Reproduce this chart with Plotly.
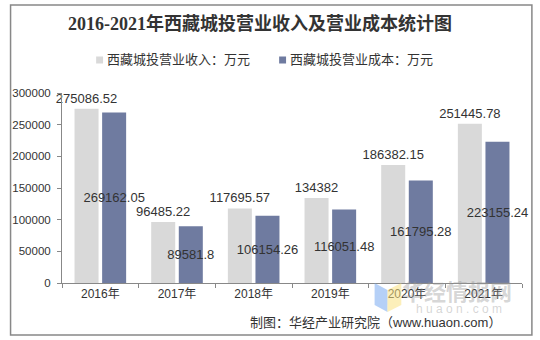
import plotly.graph_objects as go

years = ["2016年", "2017年", "2018年", "2019年", "2020年", "2021年"]
revenue = [275086.52, 96485.22, 117695.57, 134382, 186382.15, 251445.78]
cost = [269162.05, 89581.8, 106154.26, 116051.48, 161795.28, 223155.24]
revenue_labels = ["275086.52", "96485.22", "117695.57", "134382", "186382.15", "251445.78"]
cost_labels = ["269162.05", "89581.8", "106154.26", "116051.48", "161795.28", "223155.24"]
series_names = ["西藏城投营业收入：万元", "西藏城投营业成本：万元"]
series_colors = ["#D9D9D9", "#6F7BA0"]
y_ticks = [0, 50000, 100000, 150000, 200000, 250000, 300000]

FONT = "Liberation Sans, Arial, Noto Sans CJK SC, sans-serif"

fig = go.Figure()
fig.add_trace(go.Bar(
    x=years, y=revenue, name=series_names[0],
    marker=dict(color=series_colors[0], line=dict(width=0)),
    text=revenue_labels, textposition="outside", cliponaxis=False,
    textfont=dict(size=13, color="#333333", family=FONT),
    constraintext="none", showlegend=False,
))
fig.add_trace(go.Bar(
    x=years, y=cost, name=series_names[1],
    marker=dict(color=series_colors[1], line=dict(width=0)),
    text=cost_labels, textposition="inside", insidetextanchor="middle",
    textangle=0, constraintext="none", cliponaxis=False,
    insidetextfont=dict(size=13, color="#333333", family=FONT),
    showlegend=False,
))

# plot area geometry (px): x 57..522, y 93..283
L, R, T, B = 57, 522, 93, 283
W, H = R - L, B - T
def px(x): return (x - L) / W
def py(y): return (B - y) / H

fig.update_layout(
    width=540, height=340,
    margin=dict(l=L, r=540 - R, t=T, b=340 - B),
    paper_bgcolor="white", plot_bgcolor="white",
    barmode="group", bargap=0.28, bargroupgap=0.13,
    font=dict(family=FONT, size=12, color="#333333"),
    title=dict(
        text="<b>2016-2021年西藏城投营业收入及营业成本统计图</b>",
        font=dict(family="Liberation Serif, Noto Sans CJK SC, serif", size=18, color="#333333"),
        x=260 / 540, xanchor="center", y=1 - 24 / 340, yanchor="middle",
    ),
    showlegend=False,
    xaxis=dict(
        showline=True, linecolor="#888888", linewidth=1,
        ticks="outside", tickson="boundaries", ticklen=4, tickcolor="#888888",
        tickfont=dict(size=12, color="#333333"), showgrid=False, fixedrange=True,
    ),
    yaxis=dict(
        range=[0, 300000], tickvals=y_ticks, ticktext=[str(v) for v in y_ticks],
        showline=True, linecolor="#888888", linewidth=1, showgrid=False,
        zeroline=False, ticks="outside", ticklen=4, tickcolor="#888888",
        ticklabelstandoff=4,
        tickfont=dict(size=11.5, color="#333333"),
        fixedrange=True,
    ),
)

# manual legend
for mx, name, col in zip([95, 280], series_names, series_colors):
    fig.add_shape(type="rect", xref="paper", yref="paper",
                  x0=px(mx - 3.5), x1=px(mx + 3.5), y0=py(63.5), y1=py(56.5),
                  fillcolor=col, line=dict(width=0))
    fig.add_annotation(xref="paper", yref="paper", x=px(mx + 5), y=py(60),
                       text=name, showarrow=False, xanchor="left", yanchor="middle",
                       font=dict(size=13, color="#333333"))

# outer border
fig.add_shape(type="rect", xref="paper", yref="paper",
              x0=px(5), x1=px(532), y0=py(335), y1=py(5),
              line=dict(color="#888888", width=1.5), fillcolor="rgba(0,0,0,0)", layer="below")

# watermark logo blocks
fig.add_shape(type="path", xref="paper", yref="paper",
              path=f"M {px(373)},{py(283)} L {px(386)},{py(290)} L {px(386)},{py(312)} L {px(373)},{py(305)} Z",
              fillcolor="rgba(120,170,240,0.55)", line=dict(width=0))
fig.add_shape(type="path", xref="paper", yref="paper",
              path=f"M {px(386)},{py(290)} L {px(400)},{py(283)} L {px(400)},{py(305)} L {px(386)},{py(312)} Z",
              fillcolor="rgba(250,225,130,0.55)", line=dict(width=0))

fig.add_annotation(xref="paper", yref="paper", x=px(456), y=py(290),
                   text="<b>华经情报网</b>", showarrow=False,
                   font=dict(size=22, color="rgba(150,150,150,0.4)", family="Noto Sans CJK SC"),
                   xanchor="center", yanchor="middle")
fig.add_annotation(xref="paper", yref="paper", x=px(458), y=py(309),
                   text="h u a o n . c o m", showarrow=False,
                   font=dict(size=12, color="rgba(150,150,150,0.4)"),
                   xanchor="center", yanchor="middle")

# footer
fig.add_annotation(xref="paper", yref="paper", x=px(503), y=py(322),
                   text="制图：华经产业研究院（www.huaon.com）", showarrow=False,
                   font=dict(size=13, color="#333333"),
                   xanchor="right", yanchor="middle")

fig.write_html("out.html")
